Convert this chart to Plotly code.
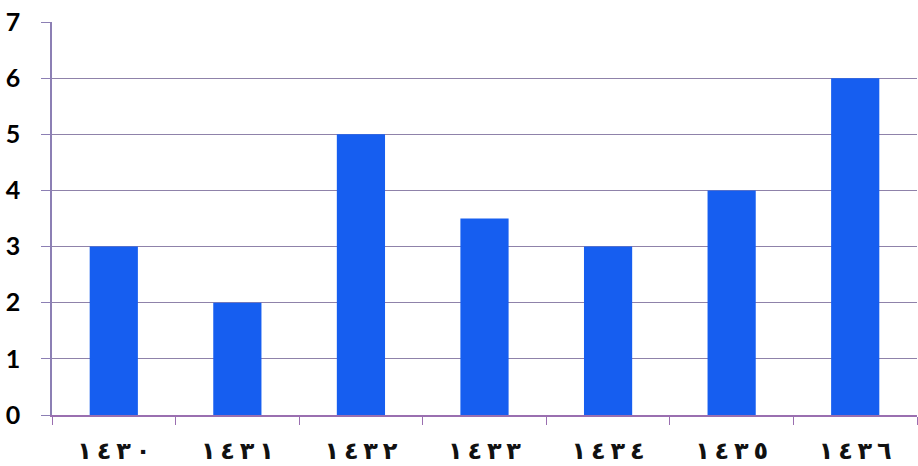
import plotly.graph_objects as go

years = ["١٤٣٠", "١٤٣١", "١٤٣٢", "١٤٣٣", "١٤٣٤", "١٤٣٥", "١٤٣٦"]
values = [3, 2, 5, 3.5, 3, 4, 6]
y_ticks = [0, 1, 2, 3, 4, 5, 6, 7]

def spaced(s):
    return "\u202d" + "\u2009".join(s) + "\u202c"

labels = [spaced(y) for y in years]

fig = go.Figure(go.Bar(x=labels, y=values, marker=dict(color="#165EF0", line=dict(width=0))))

fig.update_layout(
    width=918, height=466,
    margin=dict(l=52, r=1, t=22, b=51),
    paper_bgcolor="white", plot_bgcolor="white",
    bargap=0.61,
    showlegend=False,
    font=dict(family="DejaVu Sans", color="black"),
)
fig.update_xaxes(
    showline=True, linecolor="#9a6fb0", linewidth=1.5,
    ticks="outside", tickson="boundaries", ticklen=8, tickcolor="#9a6fb0",
    tickfont=dict(size=24, family="DejaVu Sans", color="#111", weight="bold"),
    ticklabelstandoff=13,
    showgrid=False, automargin=False,
)
fig.update_yaxes(
    range=[0, 7], tickvals=y_ticks,
    showline=True, linecolor="#8c7fb4", linewidth=1.5,
    ticks="outside", ticklen=9, tickcolor="#8c7fb4",
    gridcolor="#8f82aa", gridwidth=1,
    tickfont=dict(size=25, family="Lato", color="black", weight="bold"),
    ticklabelstandoff=16,
    zeroline=False, automargin=False,
)
fig.write_html("out.html")
